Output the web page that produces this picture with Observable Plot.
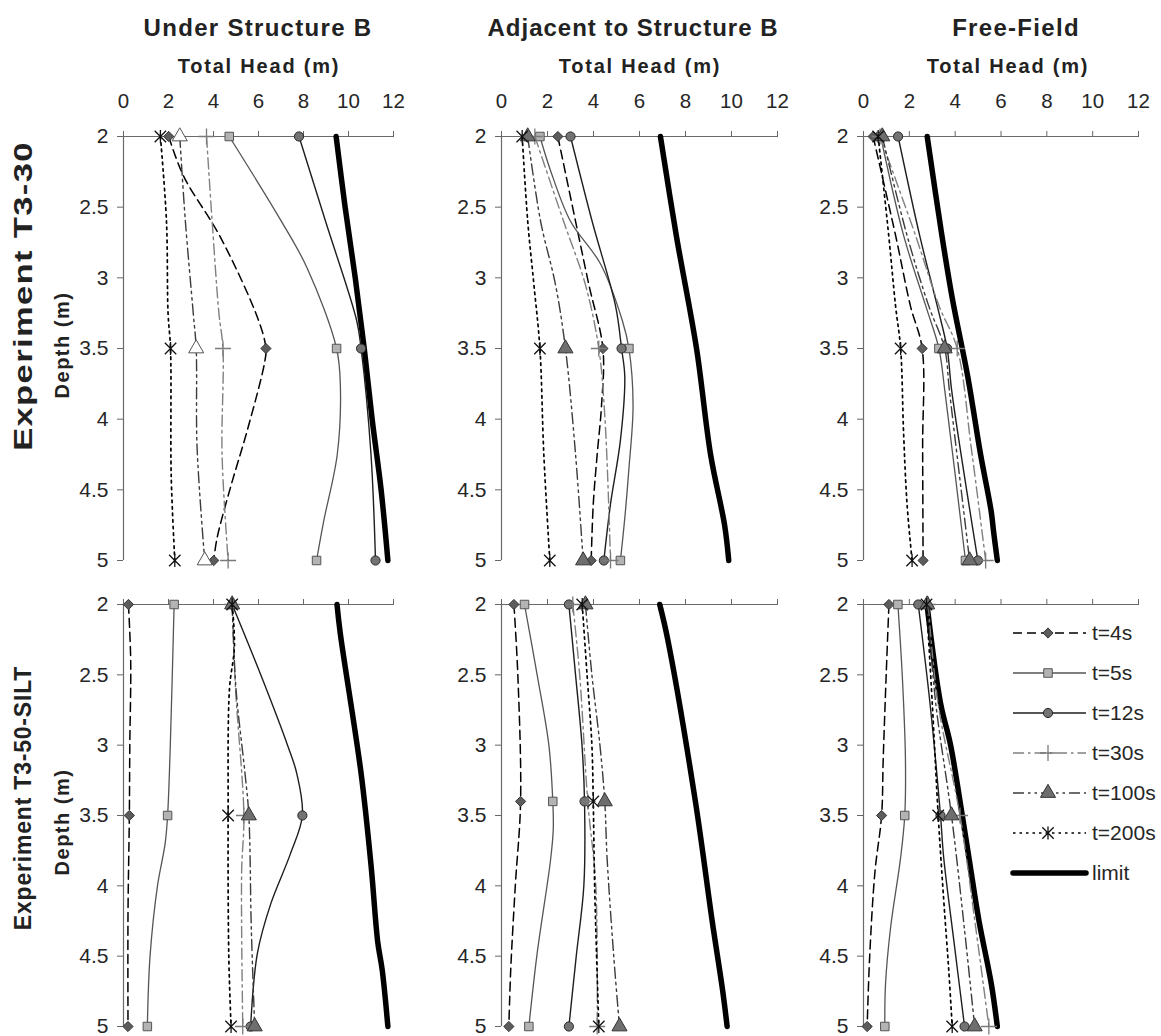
<!DOCTYPE html>
<html>
<head>
<meta charset="utf-8">
<script src="https://cdn.jsdelivr.net/npm/d3@7"></script>
<script src="https://cdn.jsdelivr.net/npm/@observablehq/plot@0.6"></script>
<style>
  body { margin: 0; background: #fff; font-family: "Liberation Sans", Arial, sans-serif; }
  #root { position: relative; width: 1161px; height: 1036px; overflow: hidden; background: #fff; }
  .lbl { position: absolute; font-weight: bold; color: #222; white-space: nowrap; transform: translate(-50%, -50%); line-height: 1; }
  #root svg g[aria-label="x-axis tick"], #root svg g[aria-label="y-axis tick"] { color: #666; }
  #root svg g[aria-label="y-axis tick label"] { font-size: 21px; }
  #root svg g[aria-label="x-axis tick label"] { font-size: 20.5px; }
</style>
</head>
<body>
<div id="root"></div>
<script>
// ---------------- DATA ----------------
const seriesNames = ["t=4s", "t=5s", "t=12s", "t=30s", "t=100s", "t=200s", "limit"];
const headTicks = [0, 2, 4, 6, 8, 10, 12];
const depthTicks = [2, 2.5, 3, 3.5, 4, 4.5, 5];
const columnTitles = ["Under Structure B", "Adjacent to Structure B", "Free-Field"];
const rowTitles = ["Experiment T3-30", "Experiment T3-50-SILT"];
const xAxisTitle = "Total Head (m)";
const yAxisTitle = "Depth (m)";

// each point: [depth (m), total head (m)]
const t330Under = {
  "t=4s":   [[2,2.01],[2.28,2.67],[2.71,4.3],[3.3,6.0],[3.5,6.33],[3.6,6.27],[4.08,5.5],[4.48,4.76],[4.84,4.16],[5,4.01]],
  "t=5s":   [[2,4.7],[2.59,6.98],[2.93,8.16],[3.5,9.47],[3.77,9.64],[4.25,9.5],[4.72,8.9],[5,8.58]],
  "t=12s":  [[2,7.8],[2.6,8.98],[3.3,10.36],[3.5,10.56],[4.25,11.0],[5,11.2]],
  "t=30s":  [[2,3.69],[2.6,3.94],[3.25,4.24],[3.5,4.42],[4.25,4.38],[5,4.65]],
  "t=100s": [[2,2.5],[2.6,2.75],[3.25,3.1],[3.5,3.23],[4.2,3.27],[5,3.61]],
  "t=200s": [[2,1.64],[2.6,1.91],[3.25,1.98],[3.5,2.09],[4.4,2.12],[5,2.28]],
  "limit":  [[2,9.45],[2.5,9.85],[3,10.3],[3.5,10.7],[4,11.05],[4.5,11.45],[5,11.75]]
};
const t330Adjacent = {
  "t=4s":   [[2,2.45],[2.6,3.22],[3.05,3.8],[3.5,4.41],[3.9,4.35],[4.25,4.16],[4.6,3.99],[5,3.9]],
  "t=5s":   [[2,1.67],[2.24,2.13],[2.6,3.0],[2.9,4.3],[3.3,5.25],[3.5,5.54],[3.9,5.72],[4.35,5.54],[4.7,5.36],[5,5.17]],
  "t=12s":  [[2,3.0],[2.6,3.94],[3.2,4.96],[3.5,5.22],[3.7,5.36],[4.15,5.17],[4.6,4.74],[5,4.45]],
  "t=30s":  [[2,1.45],[2.6,2.7],[3.05,3.65],[3.5,4.23],[4.0,4.5],[5,4.74]],
  "t=100s": [[2,1.14],[2.6,1.7],[3.05,2.35],[3.5,2.78],[4.25,3.22],[5,3.55]],
  "t=200s": [[2,0.9],[2.6,1.14],[3.05,1.41],[3.5,1.67],[4.25,1.84],[5,2.1]],
  "limit":  [[2,6.91],[2.7,7.6],[3.5,8.48],[4.25,9.09],[4.75,9.7],[5,9.88]]
};
const t330Free = {
  "t=4s":   [[2,0.42],[2.7,1.4],[3.2,2.05],[3.5,2.56],[4.2,2.58],[5,2.6]],
  "t=5s":   [[2,0.75],[2.7,1.75],[3.2,2.72],[3.5,3.29],[3.8,3.55],[5,4.45]],
  "t=12s":  [[2,1.51],[2.7,2.45],[3.2,3.22],[3.5,3.65],[3.8,3.85],[5,4.99]],
  "t=30s":  [[2,0.72],[2.7,2.27],[3.2,3.3],[3.5,4.09],[4.2,4.7],[5,5.33]],
  "t=100s": [[2,0.82],[2.7,1.9],[3.2,2.85],[3.5,3.54],[3.8,3.75],[5,4.63]],
  "t=200s": [[2,0.64],[2.7,1.1],[3.2,1.4],[3.5,1.62],[4.1,1.75],[4.6,1.9],[5,2.12]],
  "limit":  [[2,2.78],[2.7,3.42],[3.15,3.88],[3.7,4.55],[4.25,5.11],[4.65,5.57],[4.8,5.68],[5,5.84]]
};
const siltUnder = {
  "t=4s":   [[2,0.22],[2.4,0.32],[3.0,0.28],[3.5,0.26],[4.2,0.2],[5,0.2]],
  "t=5s":   [[2,2.25],[3.0,2.08],[3.5,1.96],[3.7,1.85],[4.0,1.51],[4.5,1.18],[5,1.06]],
  "t=12s":  [[2,4.83],[2.5,6.1],[3.0,7.29],[3.2,7.7],[3.5,7.95],[3.78,7.4],[4.13,6.54],[4.48,5.95],[5,5.65]],
  "t=30s":  [[2,4.83],[2.6,4.98],[3.5,5.35],[3.9,5.25],[5,5.3]],
  "t=100s": [[2,4.83],[2.6,5.0],[3.2,5.4],[3.5,5.57],[4.3,5.68],[5,5.83]],
  "t=200s": [[2,4.83],[2.3,4.93],[2.6,4.71],[3.5,4.65],[4.5,4.68],[5,4.78]],
  "limit":  [[2,9.49],[2.2,9.63],[3.2,10.56],[3.85,11.0],[4.4,11.3],[4.6,11.5],[5,11.75]]
};
const siltAdjacent = {
  "t=4s":   [[2,0.54],[2.5,0.71],[3.4,0.83],[4.0,0.6],[4.6,0.4],[5,0.32]],
  "t=5s":   [[2,1.0],[2.5,1.55],[3.0,2.06],[3.4,2.23],[3.6,2.25],[3.82,2.13],[4.48,1.55],[5,1.19]],
  "t=12s":  [[2,2.93],[2.5,3.22],[3.0,3.5],[3.4,3.61],[4.0,3.58],[4.5,3.25],[5,2.93]],
  "t=30s":  [[2,3.1],[2.5,3.4],[3.4,3.75],[4.0,4.1],[5,4.16]],
  "t=100s": [[2,3.65],[2.5,3.93],[3.0,4.28],[3.4,4.49],[3.8,4.59],[4.5,4.88],[5,5.13]],
  "t=200s": [[2,3.51],[2.5,3.72],[3.0,3.93],[3.4,3.99],[4.0,4.05],[5,4.23]],
  "limit":  [[2,6.88],[2.25,7.23],[3.4,8.43],[4.25,9.16],[4.75,9.62],[5,9.81]]
};
const siltFree = {
  "t=4s":   [[2,1.11],[2.5,0.99],[3.1,0.86],[3.5,0.79],[3.9,0.5],[4.5,0.27],[5,0.16]],
  "t=5s":   [[2,1.5],[2.5,1.69],[3.1,1.83],[3.5,1.8],[3.8,1.62],[4.3,1.18],[4.7,0.96],[5,0.93]],
  "t=12s":  [[2,2.39],[2.7,2.9],[3.5,3.36],[3.8,3.5],[4.4,3.95],[5,4.41]],
  "t=30s":  [[2,2.82],[2.7,3.25],[3.5,4.21],[4.3,4.9],[5,5.47]],
  "t=100s": [[2,2.78],[2.7,3.15],[3.5,3.84],[4.3,4.4],[5,4.85]],
  "t=200s": [[2,2.75],[2.7,3.0],[3.5,3.26],[4.1,3.5],[4.6,3.72],[5,3.87]],
  "limit":  [[2,2.77],[2.7,3.36],[3.0,3.8],[3.5,4.31],[3.8,4.6],[4.25,5.04],[4.7,5.58],[5,5.84]]
};
const markerDepthsT330 = [2, 3.5, 5];
const markerDepthsSiltAdjacent = [2, 3.4, 5];
const markerDepthsSilt = [2, 3.5, 5];

// ---------------- STYLES ----------------
const starSymbol = {
  draw(ctx, size) {
    const r = Math.sqrt(size) * 0.62;
    ctx.moveTo(-r, -r); ctx.lineTo(r, r);
    ctx.moveTo(-r, r); ctx.lineTo(r, -r);
    ctx.moveTo(0, -r * 1.15); ctx.lineTo(0, r * 1.15);
  }
};
const lineStyle = {
  "t=4s":   {stroke: "#000",    dash: "9,5",              width: 1.5},
  "t=5s":   {stroke: "#555",    dash: null,               width: 1.3},
  "t=12s":  {stroke: "#1e1e1e", dash: null,               width: 1.4},
  "t=30s":  {stroke: "#808080", dash: "11,4,2.5,4",       width: 1.4},
  "t=100s": {stroke: "#3c3c3c", dash: "11,4,2.5,4,2.5,4", width: 1.4},
  "t=200s": {stroke: "#000",    dash: "2.5,4",            width: 1.7},
  "limit":  {stroke: "#000",    dash: null,               width: 5.5}
};
const markerStyle = {
  "t=4s":   {symbol: d3.symbolDiamond2, fill: "#5c5c5c", stroke: "#333", r: 4.6, sw: 1},
  "t=5s":   {symbol: d3.symbolSquare,   fill: "#b3b3b3", stroke: "#555", r: 4.8, sw: 1},
  "t=12s":  {symbol: d3.symbolCircle,   fill: "#737373", stroke: "#262626", r: 4.6, sw: 1},
  "t=30s":  {symbol: d3.symbolPlus,     fill: "none",    stroke: "#7a7a7a", r: 5.2, sw: 1.3},
  "t=100s": {symbol: d3.symbolTriangle, fill: "#6e6e6e", stroke: "#333", r: 5.6, sw: 1},
  "t=200s": {symbol: starSymbol,        fill: "none",    stroke: "#111", r: 5.2, sw: 1.3}
};

// ---------------- LAYOUT ----------------
const colX = [[123, 393], [501, 777], [863, 1138]];
const rowY = [[136, 560], [604, 1026]];
const panels = [
  {data: t330Under,    markers: markerDepthsT330,         col: 0, row: 0, openTri: true},
  {data: t330Adjacent, markers: markerDepthsT330,         col: 1, row: 0},
  {data: t330Free,     markers: markerDepthsT330,         col: 2, row: 0},
  {data: siltUnder,    markers: markerDepthsSilt,         col: 0, row: 1},
  {data: siltAdjacent, markers: markerDepthsSiltAdjacent, col: 1, row: 1},
  {data: siltFree,     markers: markerDepthsSilt,         col: 2, row: 1}
];

const root = document.getElementById("root");
const font = "'Liberation Sans', Arial, sans-serif";

function addLabel(text, x, y, size, rotate, spacing, stretch) {
  const d = document.createElement("div");
  d.className = "lbl";
  d.textContent = text;
  d.style.left = x + "px";
  d.style.top = y + "px";
  d.style.fontSize = size + "px";
  d.style.fontFamily = font;
  if (spacing) d.style.letterSpacing = spacing + "px";
  let t = "translate(-50%, -50%)";
  if (rotate) t += " rotate(-90deg)";
  if (stretch) t += ` scaleX(${stretch})`;
  d.style.transform = t;
  root.appendChild(d);
}

const drawOrder = ["limit", "t=4s", "t=5s", "t=12s", "t=30s", "t=100s", "t=200s"];

panels.forEach(p => {
  const [x0, x12] = colX[p.col];
  const [y2, y5] = rowY[p.row];
  const mL = 60, mR = 16, mT = 50, mB = 14;
  const marks = [
    Plot.ruleY([2], {stroke: "#6a6a6a", strokeWidth: 1.2}),
    Plot.ruleX([0], {stroke: "#6a6a6a", strokeWidth: 1.2})
  ];
  drawOrder.forEach(name => {
    const pts = p.data[name];
    const ls = lineStyle[name];
    const opts = {
      x: d => d[1], y: d => d[0],
      stroke: ls.stroke, strokeWidth: ls.width,
      curve: "catmull-rom", strokeLinejoin: "round"
    };
    if (ls.dash) opts.strokeDasharray = ls.dash;
    marks.push(Plot.line(pts, opts));
    if (name !== "limit") {
      const ms = markerStyle[name];
      const mpts = pts.filter(d => p.markers.includes(d[0]));
      let fill = ms.fill, stroke = ms.stroke;
      if (name === "t=100s" && p.openTri) { fill = "#fff"; stroke = "#555"; }
      marks.push(Plot.dot(mpts, {
        x: d => d[1], y: d => d[0], symbol: ms.symbol, r: ms.r,
        fill, stroke, strokeWidth: ms.sw
      }));
    }
  });
  const chart = Plot.plot({
    width: mL + (x12 - x0) + mR,
    height: mT + (y5 - y2) + mB,
    marginLeft: mL, marginRight: mR, marginTop: mT, marginBottom: mB,
    x: {domain: [0, 12], axis: "top", ticks: headTicks, tickSize: 6, tickPadding: 23,
        tickFormat: p.row === 0 ? (d => String(d)) : (() => ""), label: null},
    y: {domain: [2, 5], reverse: true, ticks: depthTicks, tickSize: 6, tickPadding: 9,
        tickFormat: d => String(d), label: null},
    style: {fontSize: "20px", fontFamily: font, color: "#262626", background: "transparent", overflow: "visible"},
    marks
  });
  chart.style.position = "absolute";
  chart.style.left = (x0 - mL) + "px";
  chart.style.top = (y2 - mT) + "px";
  chart.style.overflow = "visible";
  root.appendChild(chart);
});

// titles
addLabel(columnTitles[0], 258, 28, 24, false, 1.3);
addLabel(columnTitles[1], 633, 28, 24, false, 1.0);
addLabel(columnTitles[2], 1016, 28, 24, false, 1.3);
addLabel(xAxisTitle, 259, 66, 20, false, 1.8);
addLabel(xAxisTitle, 640, 66, 20, false, 1.8);
addLabel(xAxisTitle, 1008, 66, 20, false, 1.8);
addLabel(rowTitles[0], 23, 296, 25, true, 1.0, 1.38);
addLabel(rowTitles[1], 23, 798, 23, true, 0.8);
addLabel(yAxisTitle, 62, 345, 20, true, 1.5);
addLabel(yAxisTitle, 62, 822, 20, true, 1.5);

// legend (inside bottom-right panel)
const legendNames = seriesNames;
const lg = d3.select(root).append("svg")
  .attr("width", 161).attr("height", 290)
  .style("position", "absolute").style("left", "1000px").style("top", "610px")
  .style("overflow", "visible");
legendNames.forEach((name, i) => {
  const y = 23 + i * 40;
  const ls = lineStyle[name];
  const g = lg.append("g");
  g.append("line").attr("x1", 13).attr("x2", 86).attr("y1", y).attr("y2", y)
    .attr("stroke", ls.stroke).attr("stroke-width", ls.width)
    .attr("stroke-dasharray", ls.dash || null)
    .attr("stroke-linecap", name === "limit" ? "round" : "butt");
  if (name !== "limit") {
    const ms = markerStyle[name];
    g.append("path").attr("transform", `translate(48,${y})`)
      .attr("d", d3.symbol().type(ms.symbol).size(Math.PI * ms.r * ms.r)())
      .attr("fill", ms.fill).attr("stroke", ms.stroke).attr("stroke-width", ms.sw);
  }
  g.append("text").attr("x", 92).attr("y", y).attr("dy", "0.35em")
    .attr("font-family", font).attr("font-size", 21).attr("fill", "#262626")
    .text(name);
});
</script>
</body>
</html>
